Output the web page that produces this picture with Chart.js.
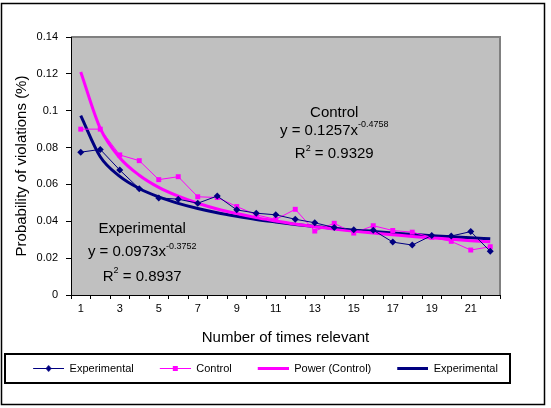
<!DOCTYPE html>
<html>
<head>
<meta charset="utf-8">
<script src="https://cdn.jsdelivr.net/npm/chart.js@4/dist/chart.umd.min.js"></script>
<style>
  body { margin: 0; background: #fff; }
</style>
</head>
<body>
<canvas id="myChart" width="551" height="408"></canvas>
<script>
// du lieu doc tu hinh
const timesRelevant = ['1','2','3','4','5','6','7','8','9','10','11','12','13','14','15','16','17','18','19','20','21','22'];
const experimental = [0.0775, 0.0790, 0.0678, 0.0577, 0.0527, 0.0520, 0.0498, 0.0537, 0.0462, 0.0444, 0.0435, 0.0411, 0.0392, 0.0366, 0.0354, 0.0352, 0.0287, 0.0271, 0.0323, 0.0320, 0.0344, 0.0237];
const control = [0.0900, 0.0900, 0.0760, 0.0729, 0.0626, 0.0642, 0.0533, 0.0529, 0.0480, 0.0435, 0.0410, 0.0465, 0.0347, 0.0389, 0.0336, 0.0376, 0.0350, 0.0341, 0.0313, 0.0291, 0.0244, 0.0262];
// duong xu huong (power)
const powerControl = [0.1210, 0.0904, 0.0745, 0.0650, 0.0584, 0.0536, 0.0498, 0.0467, 0.0442, 0.0420, 0.0402, 0.0385, 0.0371, 0.0358, 0.0347, 0.0336, 0.0327, 0.0318, 0.0310, 0.0302, 0.0295, 0.0289];
const powerExperimental = [0.0973, 0.0750, 0.0644, 0.0578, 0.0532, 0.0497, 0.0469, 0.0446, 0.0427, 0.0410, 0.0396, 0.0383, 0.0372, 0.0362, 0.0352, 0.0344, 0.0336, 0.0329, 0.0322, 0.0316, 0.0311, 0.0305];
const seriesNames = ['Experimental', 'Control', 'Power (Control)', 'Experimental'];
const fitNames = ['Control', 'Experimental'];
const fitCoef = ['0.1257', '0.0973'];
const fitPower = ['-0.4758', '-0.3752'];
const fitR2 = ['0.9329', '0.8937'];

const NAVY = '#000080';
const PINK = '#ff00ff';
const FONT = 'Liberation Sans, Arial, sans-serif';
Chart.defaults.font.family = FONT;
Chart.defaults.color = '#000';

// icon cho legend: duong + marker
const ICON_W = 47;
function legendIcon(color, width, marker) {
  const c = document.createElement('canvas');
  c.width = ICON_W; c.height = 9;
  const g = c.getContext('2d');
  const x0 = ICON_W - 31, mid = ICON_W - 15.5;
  g.strokeStyle = color;
  g.fillStyle = color;
  g.lineWidth = width;
  g.beginPath(); g.moveTo(x0, 4.5); g.lineTo(ICON_W, 4.5); g.stroke();
  if (marker === 'rect') g.fillRect(mid - 2.5, 2, 5, 5);
  if (marker === 'diamond') {
    g.beginPath();
    g.moveTo(mid, 1); g.lineTo(mid + 3, 4.5); g.lineTo(mid, 8); g.lineTo(mid - 3, 4.5);
    g.closePath(); g.fill();
  }
  return c;
}
const legendIcons = [
  legendIcon(NAVY, 1, 'diamond'),
  legendIcon(PINK, 1, 'rect'),
  legendIcon(PINK, 3, null),
  legendIcon(NAVY, 3, null)
];

// khung ngoai + nen vung ve
const background = {
  id: 'background',
  beforeDraw(chart) {
    const ctx = chart.ctx;
    const a = chart.chartArea;
    ctx.save();
    ctx.fillStyle = '#fff';
    ctx.fillRect(0, 0, chart.width, chart.height);
    ctx.strokeStyle = '#000';
    ctx.lineWidth = 1.5;
    ctx.strokeRect(1.5, 3.5, 543, 401);
    ctx.fillStyle = '#c0c0c0';
    ctx.fillRect(a.left, a.top, a.right - a.left, a.bottom - a.top);
    ctx.strokeStyle = '#808080';
    ctx.lineWidth = 2;
    ctx.beginPath();
    ctx.moveTo(a.left, a.top);
    ctx.lineTo(a.right, a.top);
    ctx.lineTo(a.right, a.bottom);
    ctx.stroke();
    ctx.restore();
  },
  afterDraw(chart) {
    const l = chart.legend;
    const ctx = chart.ctx;
    ctx.save();
    ctx.strokeStyle = '#000';
    ctx.lineWidth = 2;
    ctx.strokeRect(l.left + 1, l.top + 1, l.width - 2, l.height - 2);
    ctx.restore();
  }
};

// phuong trinh xu huong
const fitText = {
  id: 'fitText',
  afterDatasetsDraw(chart) {
    const ctx = chart.ctx;
    const x = chart.scales.x, y = chart.scales.y;
    const spots = [
      { cx: 13.0, ys: [0.0988, 0.0890, 0.0765] },
      { cx: 3.15, ys: [0.0358, 0.0233, 0.0098] }
    ];
    const big = '15px ' + FONT, small = '9px ' + FONT;
    ctx.save();
    ctx.fillStyle = '#000';
    ctx.textBaseline = 'middle';
    ctx.textAlign = 'left';
    spots.forEach((s, i) => {
      const cx = x.getPixelForValue(s.cx);
      const rows = [
        [[fitNames[i], big, 0]],
        [['y = ' + fitCoef[i] + 'x', big, 0], [fitPower[i], small, -6]],
        [['R', big, 0], ['2', small, -6], [' = ' + fitR2[i], big, 0]]
      ];
      rows.forEach((parts, r) => {
        let w = 0;
        parts.forEach(p => { ctx.font = p[1]; w += ctx.measureText(p[0]).width; });
        let px = cx - w / 2;
        const py = y.getPixelForValue(s.ys[r]);
        parts.forEach(p => {
          ctx.font = p[1];
          ctx.fillText(p[0], px, py + p[2]);
          px += ctx.measureText(p[0]).width;
        });
      });
    });
    ctx.restore();
  }
};

const update = new Chart('myChart', {
  type: 'line',
  data: {
    labels: timesRelevant,
    datasets: [
      {
        label: seriesNames[0],
        data: experimental,
        borderColor: NAVY,
        backgroundColor: NAVY,
        borderWidth: 1,
        pointStyle: 'rectRot',
        pointRadius: 3.5,
        pointBorderWidth: 0,
        lineTension: 0
      },
      {
        label: seriesNames[1],
        data: control,
        borderColor: PINK,
        backgroundColor: PINK,
        borderWidth: 1,
        pointStyle: 'rect',
        pointRadius: 3.5,
        pointBorderWidth: 0,
        lineTension: 0
      },
      {
        label: seriesNames[2],
        data: powerControl,
        borderColor: PINK,
        borderWidth: 3,
        pointRadius: 0,
        cubicInterpolationMode: 'monotone'
      },
      {
        label: seriesNames[3],
        data: powerExperimental,
        borderColor: NAVY,
        borderWidth: 3,
        pointRadius: 0,
        cubicInterpolationMode: 'monotone'
      }
    ]
  },
  options: {
    responsive: false,
    animation: false,
    layout: { padding: { left: 4, right: 40, top: 37, bottom: 24 } },
    plugins: {
      tooltip: { enabled: false },
      legend: {
        position: 'bottom',
        labels: {
          usePointStyle: true,
          pointStyleWidth: ICON_W,
          padding: 10,
          color: '#000',
          font: { size: 11 },
          generateLabels: chart => chart.data.datasets.map((ds, i) => ({
            text: ds.label,
            pointStyle: legendIcons[i],
            datasetIndex: i,
            lineWidth: 0,
            hidden: false,
            fontColor: '#000'
          }))
        }
      }
    },
    scales: {
      x: {
        offset: true,
        grid: { offset: true, drawOnChartArea: false, tickLength: 4, color: '#000' },
        border: { color: '#000', width: 1 },
        ticks: {
          autoSkip: false,
          maxRotation: 0,
          padding: 3,
          font: { size: 11 },
          callback: (v, i) => (i % 2 === 0 ? timesRelevant[i] : '')
        },
        title: {
          display: true,
          text: 'Number of times relevant',
          font: { size: 15 },
          padding: { top: 0, bottom: 6 }
        },
        afterFit: s => { s.height = 58; }
      },
      y: {
        min: 0,
        max: 0.14,
        grid: { drawOnChartArea: false, tickLength: 5, color: '#000' },
        border: { color: '#000', width: 1 },
        ticks: {
          stepSize: 0.02,
          padding: 8,
          font: { size: 11 },
          callback: v => String(+v.toFixed(2))
        },
        title: {
          display: true,
          text: 'Probability of violations (%)',
          font: { size: 15 },
          padding: { top: 9, bottom: 0 }
        },
        afterFit: s => { s.width = 67; }
      },
      y2: {
        position: 'right',
        grid: { display: false },
        ticks: { display: false },
        border: { display: false },
        afterFit: s => { s.width = 11; }
      }
    }
  },
  plugins: [background, fitText]
});
</script>
</body>
</html>
